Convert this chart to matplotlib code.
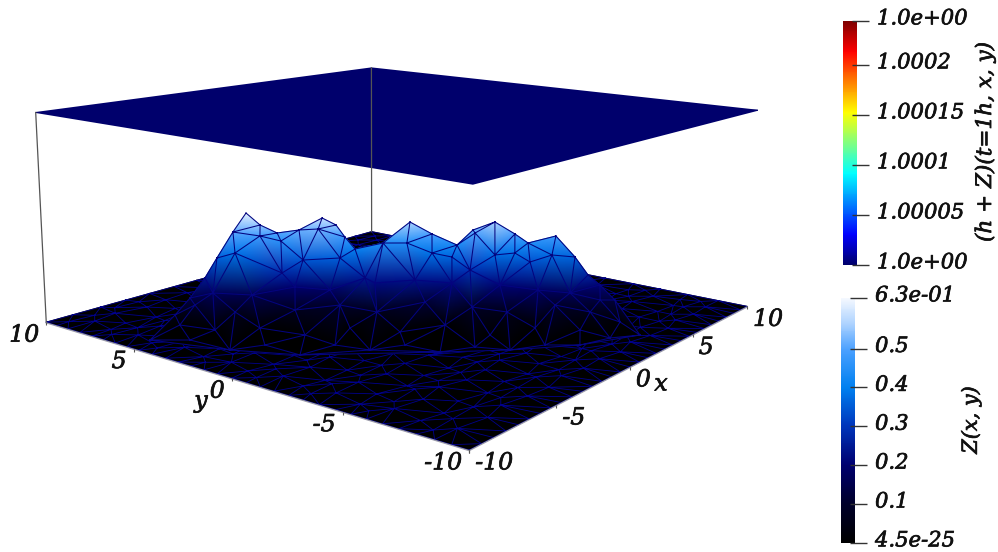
import numpy as np
import matplotlib
matplotlib.use("Agg")
import matplotlib.pyplot as plt
import matplotlib.patheffects as pe
from matplotlib.colors import LinearSegmentedColormap, Normalize
from matplotlib.cm import ScalarMappable
from matplotlib.tri import Triangulation

# --- floor mesh (x, y), Z = 0 ---
floor_x = [-10,-8.7,-7.3,-6,-4.7,-3.3,-2,-0.7,0.7,2,3.3,4.7,6,7.3,8.7,10,
           -10,-8.7,-7.3,-6,-4.7,-3.3,-2,-0.7,0.7,2,3.3,4.7,6,7.3,8.7,10,
           -10,-10,-10,-10,-10,-10,-10,-10,-10,-10,-10,-10,-10,-10,
           10,10,10,10,10,10,10,10,10,10,10,10,10,10,
           -8.8,-7.4,-6.2,-4.9,-3.7,-2.4,-1.2,0.1,1.3,2.6,3.8,5.1,6.3,7.5,8.8,
           -9.0,-8.0,-6.8,-5.5,-4.2,-3.0,-1.8,-0.6,0.7,1.9,3.2,4.4,5.7,6.9,8.1,9.1,
           -8.7,-7.4,-6.1,-4.9,-3.6,-2.4,-1.1,0.1,1.4,2.6,3.9,5.0,6.3,7.5,8.8,
           -9.1,-8.0,-6.7,-5.5,-4.3,-3.0,-1.7,-0.5,0.8,2.0,3.2,4.5,5.7,7.0,8.1,9.0,
           -8.8,-7.5,-6.2,-4.9,-3.6,3.7,5.0,6.2,7.5,8.8,
           -9.0,-8.1,-6.8,-5.6,-4.3,4.3,5.6,6.9,8.0,9.1,
           -8.7,-7.4,-6.1,-4.9,4.9,6.2,7.4,8.7,
           -9.1,-8.0,-6.8,-5.5,5.6,6.8,8.1,9.0,
           -8.8,-7.5,-6.2,-4.9,5.0,6.1,7.5,8.8,
           -9.0,-8.0,-6.8,-5.6,-4.3,4.4,5.6,6.9,8.0,9.1,
           -8.7,-7.4,-6.1,-4.9,-3.6,3.6,4.9,6.2,7.4,8.7,
           -9.1,-8.0,-6.7,-5.5,-4.2,-3.0,-1.8,-0.5,0.8,2.0,3.2,4.5,5.7,6.9,8.1,9.0,
           -8.8,-7.5,-6.2,-4.9,-3.7,-2.4,-1.1,0.1,1.4,2.6,3.8,5.0,6.3,7.5,8.8,
           -9.0,-8.1,-6.8,-5.5,-4.3,-3.0,-1.8,-0.5,0.7,2.0,3.2,4.5,5.7,6.8,8.0,9.1,
           -8.7,-7.5,-6.1,-4.9,-3.6,-2.4,-1.2,0.1,1.3,2.6,3.9,5.0,6.2,7.5,8.8]
floor_y = [-10]*16 + [10]*16 + \
          [-8.7,-7.3,-6,-4.7,-3.3,-2,-0.7,0.7,2,3.3,4.7,6,7.3,8.7] + \
          [-8.7,-7.3,-6,-4.7,-3.3,-2,-0.7,0.7,2,3.3,4.7,6,7.3,8.7] + \
          [-8.7,-8.9,-8.6,-8.8,-8.9,-8.6,-8.8,-8.7,-8.9,-8.6,-8.8,-8.9,-8.6,-8.8,-8.7,
           -7.4,-7.6,-7.3,-7.6,-7.4,-7.6,-7.3,-7.5,-7.6,-7.3,-7.5,-7.6,-7.3,-7.5,-7.6,-7.4,
           -6.1,-6.3,-6.0,-6.3,-6.2,-6.0,-6.3,-6.1,-6.2,-6.0,-6.3,-6.1,-6.2,-6.0,-6.3,
           -5.0,-4.8,-5.1,-4.9,-5.1,-4.8,-5.0,-5.1,-4.8,-5.0,-5.1,-4.9,-4.8,-5.1,-4.9,-5.0,
           -3.7,-3.6,-3.8,-3.6,-3.7,-3.8,-3.6,-3.7,-3.8,-3.6,
           -2.4,-2.6,-2.5,-2.3,-2.6,-2.4,-2.6,-2.3,-2.5,-2.4,
           -1.2,-1.3,-1.1,-1.2,-1.3,-1.1,-1.2,-1.3,
           0.1,-0.1,0.0,0.1,-0.1,0.1,0.0,-0.1,
           1.2,1.3,1.1,1.3,1.2,1.1,1.3,1.2,
           2.4,2.6,2.5,2.3,2.6,2.4,2.6,2.3,2.5,2.4,
           3.7,3.6,3.8,3.6,3.7,3.8,3.6,3.7,3.8,3.6,
           5.0,4.8,5.1,4.9,5.1,4.8,5.0,5.1,4.8,5.0,5.1,4.9,4.8,5.1,4.9,5.0,
           6.1,6.3,6.0,6.3,6.2,6.0,6.3,6.1,6.2,6.0,6.3,6.1,6.2,6.0,6.3,
           7.4,7.6,7.3,7.6,7.4,7.6,7.3,7.5,7.6,7.3,7.5,7.6,7.3,7.5,7.6,7.4,
           8.7,8.9,8.6,8.8,8.9,8.6,8.8,8.7,8.9,8.6,8.8,8.9,8.6,8.8,8.7]

# finer nodes on the edges that face the camera and in every other gap
fine_x = [-9.35,-8,-6.65,-5.35,-4,-2.65,-1.35,0,1.35,2.65,4,5.35,6.65,8,9.35,
          -10,-10,-10,-10,-10,-10,-10,-10,-10,-10,-10,-10,-10,-10,-10,
          -9.4,-8.2,-6.9,-5.6,-4.4,-3.1,-1.9,-0.6,0.7,1.9,3.2,4.5,5.7,6.9,8.2,9.4,
          -9.4,-8.2,-6.8,-5.6,-4.4,-3.1,-1.8,-0.6,0.7,1.9,3.2,4.4,5.6,6.8,8.1,9.4,
          -9.4,-8.2,-6.9,-5.6,5.7,6.9,8.2,9.4,
          -9.4,-8.3,-6.9,-5.6,5.8,7.0,8.2,9.4,
          -9.4,-8.1,-6.8,-5.6,5.6,6.8,8.2,9.4,
          -9.4,-8.3,-7.0,-5.6,5.7,6.9,8.1,9.4,
          -9.4,-8.2,-6.9,-5.7,5.8,7.0,8.3,9.4,
          -9.4,-8.2,-7.0,-5.8,5.6,6.8,8.2,9.4]
fine_y = [-10]*15 + \
         [-9.35,-8,-6.65,-5.35,-4,-2.65,-1.35,0,1.35,2.65,4,5.35,6.65,8,9.35] + \
         [-8.2,-8.1,-8.0,-8.2,-8.1,-8.0,-8.2,-8.1,-8.0,-8.2,-8.1,-8.0,-8.2,-8.1,-8.0,-8.2,
          -5.6,-5.7,-5.5,-5.6,-5.7,-5.5,-5.6,-5.7,-5.5,-5.6,-5.7,-5.5,-5.6,-5.7,-5.5,-5.6,
          -3.1,-3.0,-3.2,-3.1,-3.0,-3.2,-3.1,-3.0,
          -0.6,-0.5,-0.7,-0.6,-0.5,-0.7,-0.6,-0.5,
          1.9,1.8,2.0,1.9,1.8,2.0,1.9,1.8,
          4.4,4.3,4.5,4.4,4.3,4.5,4.4,4.3,
          6.9,6.8,6.7,6.9,6.8,6.7,6.9,6.8,
          9.4,9.3,9.5,9.4,9.3,9.5,9.4,9.3]

# --- mound mesh (x, y, Z); the first 28 nodes run along its outline ---
mound_x = [-8.93,-6.94,-6.74,-6.62,-6.63,-6.88,-7.24,-6.46,-5.77,-5.34,-5.22,-4.62,-3.98,-3.39,-2.84,
           -2.93,-1.93,-0.93,-1.07,-0.84,0.13,0.79,1.23,2.29,2.96,3.43,4.03,3.60,-6.28,-6.09,
           -5.42,-4.91,-4.47,-4.79,-3.58,-2.63,-2.24,-1.39,-0.82,-0.12,0.23,0.69,1.26,1.67,-0.90,
           -6.24,-5.24,-4.27,-3.34,-2.32,-1.35,-0.38,0.87,1.93,2.79,3.65,-6.55,-5.46,-3.97,-2.91,
           -1.88,-0.78,0.47,1.44,2.57,3.58,-6.92,-6.49,-5.20,-4.73,-2.95,-2.09,-0.24,-0.16,1.73,
           2.65,4.48,-7.97,-7.85,-6.60,-6.62,-4.92,-4.53,-3.23,-3.05,-1.73,-1.18,0.17,1.02,2.52]
mound_y = [5.30,6.06,5.41,4.69,4.01,2.89,1.85,1.91,1.71,1.01,-0.02,-0.17,-0.05,-0.05,-0.96,
           -2.30,-2.57,-3.01,-3.83,-4.65,-4.91,-5.08,-6.03,-6.26,-6.47,-6.74,-7.09,-8.47,3.40,2.28,
           1.85,0.45,1.61,2.40,0.53,0.09,-1.63,-2.18,-2.70,-3.06,-3.96,-4.56,-4.89,-5.61,-3.81,
           4.67,3.57,2.22,1.25,-0.15,-1.34,-2.40,-3.79,-4.86,-5.79,-6.65,5.35,4.28,2.50,1.12,
           0.11,-1.41,-2.77,-3.76,-5.26,-6.26,5.83,4.35,3.22,1.32,0.58,-1.20,-1.99,-4.06,-4.89,
           -6.37,-7.11,4.17,2.21,1.64,-0.12,-0.34,-1.70,-2.32,-3.81,-4.45,-5.65,-6.32,-7.33,-7.77]
mound_z = [0.0,0.044,0.137,0.247,0.357,0.507,0.621,0.549,0.501,0.519,0.591,0.549,0.477,0.407,0.441,
           0.567,0.495,0.429,0.519,0.567,0.495,0.441,0.483,0.363,0.264,0.209,0.127,0.0,0.385,0.483,
           0.453,0.525,0.346,0.275,0.357,0.247,0.441,0.385,0.363,0.291,0.374,0.385,0.335,0.374,0.501,
           0.165,0.154,0.198,0.181,0.22,0.236,0.22,0.209,0.181,0.165,0.127,0.099,0.06,0.071,0.099,
           0.06,0.115,0.088,0.06,0.099,0.06,0.0,0.0,0.0,0.0,0.0,0.0,0.0,0.0,0.0,
           0.0,0.005,0.0,0.0,0.0,0.0,0.0,0.0,0.0,0.0,0.0,0.0,0.0,0.0,0.0]
n_outline = 28

# colour bars
h_ticks = [1.0, 1.00005, 1.0001, 1.00015, 1.0002, 1.000244]
h_labels = ["1.0e+00", "1.00005", "1.0001", "1.00015", "1.0002", "1.0e+00"]
z_ticks = [0.0, 0.1, 0.2, 0.3, 0.4, 0.5, 0.63]
z_labels = ["4.5e-25", "0.1", "0.2", "0.3", "0.4", "0.5", "6.3e-01"]
axis_ticks = [-10, -5, 0, 5, 10]
top_h = 1.0

# camera fitted on the eight box corners
box_world = np.array([[-10,10,0],[10,10,0],[-10,-10,0],[10,-10,0],
                      [-10,10,1],[10,10,1],[-10,-10,1],[10,-10,1]], float)
box_pix = np.array([[47,322],[371,232],[468,450],[748,306],
                    [35,112],[372,68],[474,185],[757,110]], float)

def fit_camera(world, pix):
    rows = []
    for (X, Y, Z), (u, v) in zip(world, pix):
        rows.append([X, Y, Z, 1, 0, 0, 0, 0, -u*X, -u*Y, -u*Z, -u])
        rows.append([0, 0, 0, 0, X, Y, Z, 1, -v*X, -v*Y, -v*Z, -v])
    return np.linalg.svd(np.array(rows))[2][-1].reshape(3, 4)

P = fit_camera(box_world, box_pix)

def project(x, y, z):
    x, y, z = np.asarray(x, float), np.asarray(y, float), np.asarray(z, float)
    pts = np.stack([x, y, z, np.ones_like(x)])
    h = P @ pts
    return h[0] / h[2], h[1] / h[2]

jet_dark = LinearSegmentedColormap.from_list("jetd", [(0,"#00006c"),(0.125,"#0000ff"),(0.375,"#00ffff"),
    (0.625,"#ffff00"),(0.875,"#ff0000"),(1,"#7f0000")])
z_cmap = LinearSegmentedColormap.from_list("zblue", [(0,"#000000"),(0.16,"#00002a"),(0.32,"#000070"),
    (0.48,"#0036bc"),(0.635,"#0080f0"),(0.79,"#4aa0ff"),(0.9,"#b0d4ff"),(1,"#f4f8ff")])
z_norm = Normalize(0, 0.63)
h_norm = Normalize(1.0, 1.000244)

fig = plt.figure(figsize=(9.98, 5.52), dpi=100)
ax = fig.add_axes([0, 0, 1, 1])
ax.set_xlim(0, 998)
ax.set_ylim(552, 0)
ax.axis("off")

thick = [pe.withStroke(linewidth=0.5, foreground="#111111")]
font = dict(family="DejaVu Serif", style="italic", color="#111111", path_effects=thick)

# box verticals
for cx, cy in [(-10, 10), (10, 10)]:
    u, v = project([cx, cx], [cy, cy], [0, top_h])
    ax.plot(u, v, color="#555555", lw=0.9)

# top plane h + Z
cx = [-10, 10, 10, -10]
cy = [10, 10, -10, -10]
u, v = project(cx, cy, [top_h]*4)
ax.tripcolor(Triangulation(u, v, [[0,1,2],[0,2,3]]), [top_h]*4, cmap=jet_dark, norm=h_norm, shading="gouraud")

# floor
all_x = floor_x + fine_x
all_y = floor_y + fine_y
fl = Triangulation(all_x, all_y)
u, v = project(all_x, all_y, np.zeros(len(all_x)))
fl2 = Triangulation(u, v, fl.triangles)
ax.tripcolor(fl2, np.zeros(len(all_x)), cmap=z_cmap, norm=z_norm, shading="gouraud")
ax.triplot(fl2, "-", color="#00008a", lw=0.6)

# mound, triangulated as seen, nothing above the outline
u, v = project(mound_x, mound_y, mound_z)
mt = Triangulation(u, v)
cu, cv = u[mt.triangles].mean(axis=1), v[mt.triangles].mean(axis=1)
mt.set_mask(cv < np.interp(cu, u[:n_outline], v[:n_outline]))
ax.tripcolor(mt, mound_z, cmap=z_cmap, norm=z_norm, shading="gouraud")
ax.triplot(mt, "-", color="#04047f", lw=0.75)

# front edges, ticks and labels
u, v = project([-10, -10, 10], [10, -10, -10], [0, 0, 0])
ax.plot(u, np.array(v) + 0.7, color="#9a9aa8", lw=0.9)

u, v = project([-10]*5, axis_ticks, [0]*5)
ax.vlines(u, v, v + 3, color="#555555", lw=0.8)
for a, b, t in zip(u, v, axis_ticks):
    ax.text(a - 7, b + 13, str(t), ha="right", va="center", fontsize=17, **font)
u, v = project(axis_ticks, [-10]*5, [0]*5)
ax.vlines(u, v, v + 3, color="#555555", lw=0.8)
for a, b, t in zip(u, v, axis_ticks):
    ax.text(a + 6, b + 13, str(t), ha="left", va="center", fontsize=17, **font)
ax.text(201, 401, "y", ha="center", va="center", fontsize=17, **font)
ax.text(661, 384, "x", ha="center", va="center", fontsize=17, **font)

# colour bars
def add_bar(x0, y0, x1, y1, cmap, norm, ticks, labels):
    cax = fig.add_axes([x0/998, 1 - y1/552, (x1-x0)/998, (y1-y0)/552])
    cb = fig.colorbar(ScalarMappable(norm=norm, cmap=cmap), cax=cax)
    cb.outline.set_visible(False)
    cb.set_ticks([])
    trans = cax.get_yaxis_transform()
    cax.hlines(ticks, 0.64, 1.85, transform=trans, colors="#333333", lw=1, clip_on=False)
    for t, lab in zip(ticks, labels):
        cax.annotate(lab, (1, t), xycoords=trans, xytext=(14.4, 1.5), textcoords="offset points",
                     ha="left", va="center", fontsize=15.2, annotation_clip=False, **font)

add_bar(843, 21, 857, 265, jet_dark, h_norm, h_ticks, h_labels)
add_bar(841, 298, 855, 543, z_cmap, z_norm, z_ticks, z_labels)

ax.text(985, 142, "(h + Z)(t=1h, x, y)", rotation=90, ha="center", va="center", fontsize=15.5, **font)
ax.text(971, 420, "Z(x, y)", rotation=90, ha="center", va="center", fontsize=15, **font)

fig.savefig("out.png", dpi=100)
